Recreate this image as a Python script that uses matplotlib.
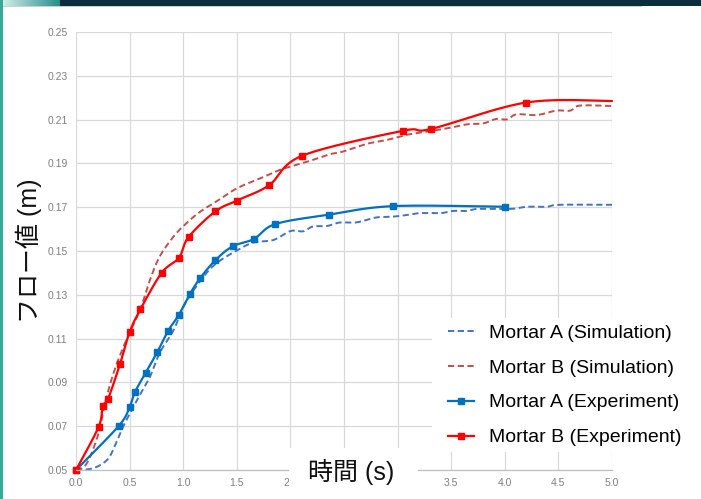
import numpy as np
import matplotlib
matplotlib.use("Agg")
import matplotlib.pyplot as plt
from matplotlib.patches import Rectangle
from matplotlib import font_manager

# ---- data -------------------------------------------------------------
a_sim_t = [0.0, 0.16, 0.29, 0.36, 0.44, 0.57, 0.69, 0.78, 0.91, 1.02, 1.19, 1.31,
           1.47, 1.65, 1.84, 2.00, 2.12, 2.21, 2.34, 2.46, 2.62, 2.80, 2.96, 3.11,
           3.21, 3.40, 3.52, 3.64, 3.74, 3.92, 4.08, 4.20, 4.39, 4.51, 5.00]
a_sim_v = [0.0500, 0.0508, 0.0546, 0.0607, 0.0698, 0.0820, 0.0926, 0.1034, 0.1139,
           0.1262, 0.1383, 0.1444, 0.1494, 0.1538, 0.1550, 0.1591, 0.1590, 0.1612,
           0.1614, 0.1630, 0.1631, 0.1653, 0.1657, 0.1666, 0.1673, 0.1673, 0.1683,
           0.1683, 0.1692, 0.1692, 0.1693, 0.1702, 0.1702, 0.1711, 0.1711]

b_sim_t = [0.0, 0.10, 0.21, 0.27, 0.36, 0.47, 0.60, 0.69, 0.78, 0.91, 1.03, 1.16,
           1.31, 1.50, 1.72, 1.90, 2.09, 2.21, 2.37, 2.49, 2.71, 2.90, 3.08, 3.27,
           3.46, 3.64, 3.80, 3.92, 4.02, 4.11, 4.30, 4.48, 4.61, 4.70, 5.00]
b_sim_v = [0.0500, 0.0530, 0.0667, 0.0804, 0.0957, 0.1094, 0.1235, 0.1368, 0.1474,
           0.1566, 0.1627, 0.1680, 0.1726, 0.1786, 0.1832, 0.1870, 0.1898, 0.1916,
           0.1942, 0.1954, 0.1989, 0.2007, 0.2030, 0.2045, 0.2060, 0.2078, 0.2083,
           0.2103, 0.2101, 0.2124, 0.2121, 0.2141, 0.2141, 0.2164, 0.2162]

a_exp_t = [0.0, 0.40, 0.50, 0.55, 0.65, 0.76, 0.86, 0.96, 1.06, 1.16, 1.30, 1.46,
           1.66, 1.86, 2.36, 2.96, 4.00]
a_exp_v = [0.0500, 0.0702, 0.0788, 0.0856, 0.0944, 0.1040, 0.1136, 0.1209, 0.1302,
           0.1377, 0.1458, 0.1521, 0.1555, 0.1623, 0.1666, 0.1705, 0.1702]

b_exp_t = [0.0, 0.21, 0.25, 0.30, 0.41, 0.50, 0.60, 0.80, 0.96, 1.05, 1.30, 1.50,
           1.80, 2.11, 3.05, 3.31, 4.20, 5.00]
b_exp_v = [0.0500, 0.0696, 0.0792, 0.0826, 0.0983, 0.1129, 0.1233, 0.1401, 0.1469,
           0.1564, 0.1681, 0.1730, 0.1800, 0.1935, 0.2049, 0.2057, 0.2178, 0.2185]
b_exp_marked = 17  # the final point carries no marker

x_ticks = [0.0, 0.5, 1.0, 1.5, 2.0, 2.5, 3.0, 3.5, 4.0, 4.5, 5.0]
x_hidden = [2.5, 3.0]  # tick labels sitting under the axis title panel
y_ticks = [0.05, 0.07, 0.09, 0.11, 0.13, 0.15, 0.17, 0.19, 0.21, 0.23, 0.25]

labels = ["Mortar A (Simulation)", "Mortar B (Simulation)",
          "Mortar A (Experiment)", "Mortar B (Experiment)"]


def smooth(xs, ys, n=24):
    """Catmull-Rom spline through the points (spreadsheet-style smoothed line)."""
    p = np.column_stack([xs, ys]).astype(float)
    p = np.vstack([p[0], p, p[-1]])
    out = []
    t = np.linspace(0, 1, n, endpoint=False)[:, None]
    for i in range(1, len(p) - 2):
        p0, p1, p2, p3 = p[i - 1], p[i], p[i + 1], p[i + 2]
        seg = 0.5 * ((2 * p1) + (-p0 + p2) * t +
                     (2 * p0 - 5 * p1 + 4 * p2 - p3) * t ** 2 +
                     (-p0 + 3 * p1 - 3 * p2 + p3) * t ** 3)
        out.append(seg)
    out.append(p[-2][None, :])
    s = np.vstack(out)
    return s[:, 0], s[:, 1]


installed = {f.name for f in font_manager.fontManager.ttflist}
tick_family = "Liberation Sans Narrow" if "Liberation Sans Narrow" in installed else "Liberation Sans"
plt.rcParams["font.family"] = ["Liberation Sans", "Noto Sans CJK JP", "DejaVu Sans"]

W, H = 701, 499
fig = plt.figure(figsize=(W / 100, H / 100), dpi=100)
fig.patch.set_facecolor("white")

ax = fig.add_axes([76 / W, 29 / H, 536 / W, 438 / H])
ax.set_xlim(0, 5)
ax.set_ylim(0.05, 0.25)
ax.set_xticks(x_ticks)
ax.set_xticklabels([f"{v:.1f}" for v in x_ticks])
ax.set_yticks(y_ticks)
ax.set_yticklabels([f"{v:.2f}" for v in y_ticks])
ax.tick_params(length=0, labelsize=7.5, colors="#7f7f7f", pad=6)
for v, lab in zip(x_ticks, ax.get_xticklabels()):
    if v in x_hidden:
        lab.set_visible(False)
for lab in ax.get_xticklabels() + ax.get_yticklabels():
    lab.set_family(tick_family)
ax.grid(True, color="#d9d9d9", linewidth=0.9)
ax.set_axisbelow(True)
for side in ["top", "right", "left"]:
    ax.spines[side].set_visible(False)
ax.spines["bottom"].set_color("#bfbfbf")
ax.spines["bottom"].set_linewidth(0.9)

c_a_sim, c_b_sim = "#4472c4", "#c0504d"
c_a_exp, c_b_exp = "#0070c0", "#ff0000"
dash = (0, (3.2, 1.8))

xs, ys = smooth(a_sim_t, a_sim_v)
h1, = ax.plot(xs, ys, color=c_a_sim, lw=1.4, linestyle=dash)
xs, ys = smooth(b_sim_t, b_sim_v)
h2, = ax.plot(xs, ys, color=c_b_sim, lw=1.4, linestyle=dash)

xs, ys = smooth(a_exp_t, a_exp_v)
ax.plot(xs, ys, color=c_a_exp, lw=1.6, solid_capstyle="round")
ax.plot(a_exp_t, a_exp_v, linestyle="none", marker="s", ms=5, color=c_a_exp)
xs, ys = smooth(b_exp_t, b_exp_v)
ax.plot(xs, ys, color=c_b_exp, lw=1.6, solid_capstyle="round")
ax.plot(b_exp_t[:b_exp_marked], b_exp_v[:b_exp_marked], linestyle="none",
        marker="s", ms=5, color=c_b_exp)
h3, = ax.plot([], [], color=c_a_exp, lw=1.6, marker="s", ms=5)
h4, = ax.plot([], [], color=c_b_exp, lw=1.6, marker="s", ms=5)
for ln in ax.lines:
    ln.set_clip_on(False)

# white panels behind the legend and the x-axis title
fig.patches.append(Rectangle((432 / W, (H - 452) / H), (W - 432) / W, 134 / H,
                             transform=fig.transFigure, facecolor="white",
                             edgecolor="none", zorder=1))
fig.patches.append(Rectangle((289 / W, 0), 129 / W, (H - 448) / H,
                             transform=fig.transFigure, facecolor="white",
                             edgecolor="none", zorder=1))

fig.legend([h1, h2, h3, h4], labels, loc="upper left",
           bbox_to_anchor=(448 / W, 1 - 324 / H), frameon=False, fontsize=14,
           handlelength=1.35, handletextpad=0.75, labelspacing=0.89,
           borderpad=0, borderaxespad=0, markerscale=0.8)

fig.text(351 / W, 1 - 472 / H, "時間 (s)", ha="center", va="center", fontsize=18,
         color="#111111", zorder=3)
fig.text(29 / W, 1 - 251 / H, "フロー値 (m)", ha="center", va="center",
         rotation=90, fontsize=18, color="#111111", zorder=3)

# slide frame: dark band along the top, teal strip at the left edge
fig.patches.append(Rectangle((0, 1 - 6 / H), 1, 6 / H, transform=fig.transFigure,
                             facecolor="#0b2e3e", edgecolor="none", zorder=2))
grad = np.linspace(0, 1, 60)
for i, g in enumerate(grad):
    col = (1 - g) * np.array([0.85, 0.95, 0.93]) + g * np.array([0.16, 0.55, 0.55])
    fig.patches.append(Rectangle((i / W, 1 - 6 / H), 1 / W, 6 / H,
                                 transform=fig.transFigure, facecolor=col,
                                 edgecolor="none", zorder=2))
fig.patches.append(Rectangle((0, 1 - 7 / H), 642 / W, 1 / H, transform=fig.transFigure,
                             facecolor="#c9cfd1", edgecolor="none", zorder=2))
fig.patches.append(Rectangle((0, 0), 3 / W, 1, transform=fig.transFigure,
                             facecolor="#3aa898", edgecolor="none", zorder=2))

fig.savefig("out.png", dpi=100)
